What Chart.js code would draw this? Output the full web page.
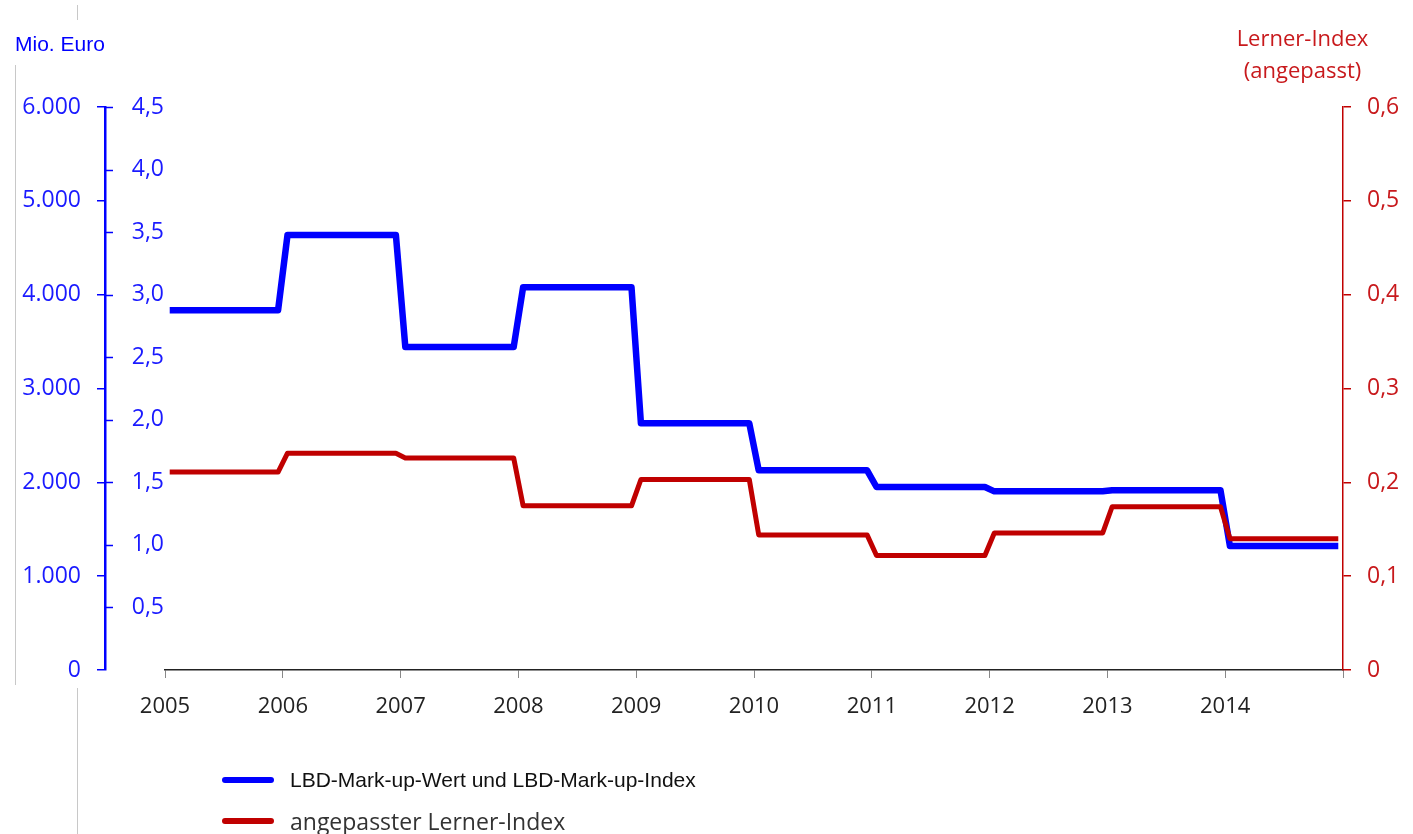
<!DOCTYPE html>
<html lang="de">
<head>
<meta charset="utf-8">
<script src="https://cdn.jsdelivr.net/npm/chart.js@4"></script>
<style>
  body { margin: 0; background: #fff; }
  #wrap { position: relative; width: 1413px; height: 834px; overflow: hidden; }
  #wrap canvas { position: absolute; left: 0; top: 0; }
  .edge { position: absolute; width: 1px; background: #c8c8c8; }
  .title { position: absolute; }
  .legend { position: absolute; left: 222px; top: 0; }
  .legend .item { position: absolute; left: 0; white-space: nowrap; }
  .legend .swatch { position: absolute; left: 0; width: 52px; height: 6px; border-radius: 3px; }
  .legend .text { position: absolute; left: 68px; }
</style>
</head>
<body>
<div id="wrap">
  <canvas id="markupChart"></canvas>

  <!-- thin grey frame lines from the original screenshot -->
  <div class="edge" style="left:77px; top:5px; height:15px;"></div>
  <div class="edge" style="left:15px; top:65px; height:620px;"></div>
  <div class="edge" style="left:77px; top:688px; height:146px;"></div>

  <div class="title" style="left:15px; top:32px; font:21px 'Liberation Sans', Arial, sans-serif; color:#0000ff;">Mio. Euro</div>
  <div class="title" style="left:1220px; top:21px; width:165px; text-align:center; font:22px/32px 'Open Sans', sans-serif; color:#c8191c;">Lerner-Index<br>(angepasst)</div>

  <div class="legend" id="legend"></div>
</div>

<script>
// values
const years = [2005, 2006, 2007, 2008, 2009, 2010, 2011, 2012, 2013, 2014];
const markupMioEuro = [3835, 4636, 3442, 4079, 2629, 2128, 1950, 1904, 1915, 1322];
const lernerIndex = [0.211, 0.231, 0.226, 0.175, 0.203, 0.144, 0.122, 0.146, 0.174, 0.140];

const blueLabel = "LBD-Mark-up-Wert und LBD-Mark-up-Index";
const redLabel = "angepasster Lerner-Index";

const BLUE = "#0000ff";
const BLUE_TEXT = "#1a1aff";
const RED = "#c00000";
const RED_TEXT = "#c8191c";

// each year is a flat segment, with a short ramp across the year boundary
function stepPoints(values) {
    return values.flatMap((v, i) => [
        { x: years[i] + 0.04, y: v },
        { x: years[i] + 0.96, y: v }
    ]);
}

function deNumber(v, digits) {
    return v.toLocaleString("de-DE", { minimumFractionDigits: digits, maximumFractionDigits: digits });
}

// tick marks of the inner (index) scale, drawn on the right side of the blue axis line
const innerTicks = {
    id: "innerTicks",
    afterDraw(chart) {
        const outer = chart.scales.yOuter;
        const inner = chart.scales.yInner;
        const ctx = chart.ctx;
        ctx.save();
        ctx.strokeStyle = BLUE;
        ctx.lineWidth = 1.5;
        inner.ticks.forEach(t => {
            if (t.value === 0) return;
            const y = Math.round(inner.getPixelForValue(t.value)) + 0.5;
            ctx.beginPath();
            ctx.moveTo(outer.right, y);
            ctx.lineTo(outer.right + 8, y);
            ctx.stroke();
        });
        ctx.restore();
    }
};

const tickFont = { family: "'Open Sans', sans-serif", size: 23 };

const ctx = document.getElementById("markupChart").getContext("2d");
const markupChart = new Chart(ctx, {
    type: "line",
    data: {
        datasets: [
            {
                label: redLabel,
                data: stepPoints(lernerIndex),
                yAxisID: "yRight",
                borderColor: RED,
                borderWidth: 5,
                borderJoinStyle: "round",
                borderCapStyle: "butt",
                pointRadius: 0,
                tension: 0,
                order: 0
            },
            {
                label: blueLabel,
                data: stepPoints(markupMioEuro),
                yAxisID: "yOuter",
                borderColor: BLUE,
                borderWidth: 6.5,
                borderJoinStyle: "round",
                borderCapStyle: "butt",
                pointRadius: 0,
                tension: 0,
                order: 1
            }
        ]
    },
    options: {
        responsive: true,
        maintainAspectRatio: false,
        animation: false,
        layout: { padding: { left: 15, right: 10, top: 107, bottom: 114 } },
        plugins: { legend: { display: false }, tooltip: { enabled: false } },
        scales: {
            x: {
                type: "linear",
                min: 2005,
                max: 2015,
                ticks: {
                    stepSize: 1,
                    autoSkip: false,
                    maxRotation: 0,
                    color: "#222",
                    font: { family: "'Open Sans', sans-serif", size: 22 },
                    padding: 16,
                    callback: v => (v < 2015 ? String(v) : "")
                },
                grid: { drawOnChartArea: false, tickLength: 8, color: "#888", lineWidth: 1 },
                border: { color: "#222", width: 1.5 },
                afterFit(scale) { scale.height = 50; }
            },
            yOuter: {
                position: "left",
                weight: 2,
                min: 0,
                max: 6000,
                ticks: {
                    stepSize: 1000,
                    color: BLUE_TEXT,
                    font: tickFont,
                    padding: 16,
                    callback: v => deNumber(v, 0)
                },
                grid: { drawOnChartArea: false, tickLength: 8, color: BLUE, lineWidth: 1.5 },
                border: { color: BLUE, width: 2.5 },
                afterFit(scale) { scale.width = 90; }
            },
            yInner: {
                position: "left",
                weight: 1,
                min: 0,
                max: 4.5,
                ticks: {
                    stepSize: 0.5,
                    color: BLUE_TEXT,
                    font: tickFont,
                    padding: 1,
                    callback: v => (v === 0 ? "" : deNumber(v, 1))
                },
                grid: { display: false, drawTicks: false },
                border: { display: false },
                afterFit(scale) { scale.width = 60; }
            },
            yRight: {
                position: "right",
                min: 0,
                max: 0.6,
                ticks: {
                    stepSize: 0.1,
                    color: RED_TEXT,
                    font: tickFont,
                    padding: 16,
                    callback: v => (v === 0 ? "0" : deNumber(v, 1))
                },
                grid: { drawOnChartArea: false, tickLength: 8, color: RED, lineWidth: 1.5 },
                border: { color: RED, width: 1.5 },
                afterFit(scale) { scale.width = 60; }
            }
        }
    },
    plugins: [innerTicks]
});

// legend below the chart, one entry per line
const legend = document.getElementById("legend");
const legendRows = [
    { label: blueLabel, color: BLUE, top: 764, font: "21px 'Liberation Sans', Arial, sans-serif", textColor: "#111" },
    { label: redLabel, color: RED, top: 805, font: "23px 'Open Sans', sans-serif", textColor: "#333" }
];
legendRows.forEach(r => {
    const item = document.createElement("div");
    item.className = "item";
    item.style.top = r.top + "px";
    item.innerHTML = '<span class="swatch" style="top:13px; background:' + r.color + '"></span>' +
        '<span class="text" style="font:' + r.font + '; color:' + r.textColor + '; line-height:32px">' + r.label + '</span>';
    legend.appendChild(item);
});
</script>
</body>
</html>
